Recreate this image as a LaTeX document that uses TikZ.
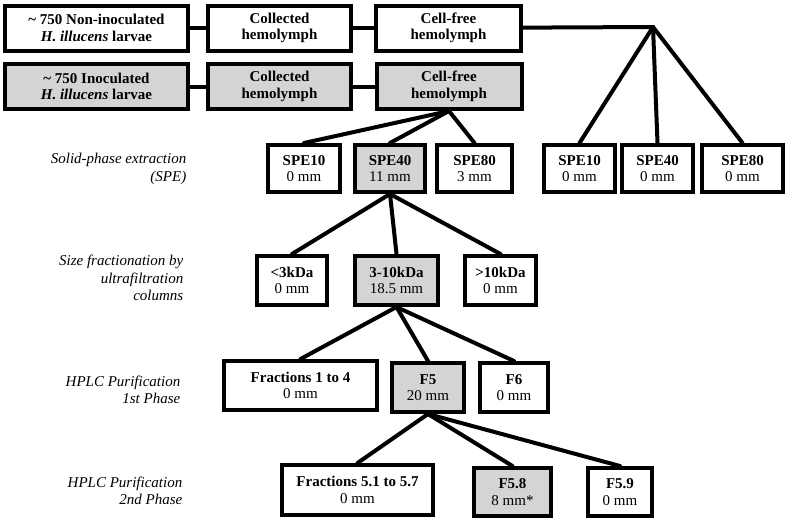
\documentclass[tikz,border=0pt]{standalone}
\usepackage{fontspec}
\setmainfont{Liberation Serif}
\usepackage{xcolor}
\usepackage{tikz}
\definecolor{boxgray}{RGB}{212,212,212}

\begin{document}
\begin{tikzpicture}
  [
    x=0.75pt, y=-0.75pt,
    Box/.style={rectangle, draw=black, fill=white, line width=3pt, align=center, inner sep=1pt, font=\fontsize{11.25pt}{12.4pt}\selectfont},
    Gray/.style={Box, fill=boxgray},
    Step/.style={anchor=east, align=right, font=\itshape\fontsize{11.25pt}{13.1pt}\selectfont},
    Link/.style={draw, line width=3pt, line cap=round}
  ]
  \useasboundingbox (0, 0) rectangle (788, 522);
  % Nodes
  \node[Box, minimum width=137.25pt, minimum height=33.75pt] (a1) at(96.5, 28) {\textbf{\textasciitilde{} 750 Non-inoculated}\\\textbf{\textit{H. illucens} larvae}};
  \node[Box, minimum width=107.25pt, minimum height=33.75pt] (b1) at(279.5, 28) {\textbf{Collected}\\\textbf{hemolymph}};
  \node[Box, minimum width=108.75pt, minimum height=33.75pt] (c1) at(448.5, 28) {\textbf{Cell-free}\\\textbf{hemolymph}};
  \node[Gray, minimum width=137.25pt, minimum height=33.75pt] (a2) at(96.5, 86.5) {\textbf{\textasciitilde{} 750 Inoculated}\\\textbf{\textit{H. illucens} larvae}};
  \node[Gray, minimum width=107.25pt, minimum height=33.75pt] (b2) at(279.5, 86.5) {\textbf{Collected}\\\textbf{hemolymph}};
  \node[Gray, minimum width=108.75pt, minimum height=33.75pt] (c2) at(449, 86.5) {\textbf{Cell-free}\\\textbf{hemolymph}};
  \coordinate (j) at(653, 27);
  % SPE
  \node[Box, minimum width=54pt, minimum height=35.25pt] (s10) at(304, 168.5) {\textbf{SPE10}\\0 mm};
  \node[Gray, minimum width=52.5pt, minimum height=35.25pt] (s40) at(390, 168.5) {\textbf{SPE40}\\11 mm};
  \node[Box, minimum width=56.25pt, minimum height=35.25pt] (s80) at(474.5, 168.5) {\textbf{SPE80}\\3 mm};
  \node[Box, minimum width=53.25pt, minimum height=35.25pt] (n10) at(579.5, 168.5) {\textbf{SPE10}\\0 mm};
  \node[Box, minimum width=53.25pt, minimum height=35.25pt] (n40) at(657.5, 168.5) {\textbf{SPE40}\\0 mm};
  \node[Box, minimum width=60.75pt, minimum height=35.25pt] (n80) at(742.5, 168.5) {\textbf{SPE80}\\0 mm};
  % Ultrafiltration
  \node[Box, minimum width=52.5pt, minimum height=36.75pt] (k3) at(292, 280.5) {\textbf{<3kDa}\\0 mm};
  \node[Gray, minimum width=62.25pt, minimum height=36.75pt] (k310) at(396.5, 280.5) {\textbf{3-10kDa}\\18.5 mm};
  \node[Box, minimum width=53.25pt, minimum height=36.75pt] (k10) at(500.5, 280.5) {\textbf{>10kDa}\\0 mm};
  % HPLC
  \node[Box, minimum width=114.75pt, minimum height=36.75pt] (f14) at(300.5, 385.5) {\textbf{Fractions 1 to 4}\\0 mm};
  \node[Gray, minimum width=54pt, minimum height=36.75pt] (f5) at(428, 387.5) {\textbf{F5}\\20 mm};
  \node[Box, minimum width=51pt, minimum height=36.75pt] (f6) at(514, 387.5) {\textbf{F6}\\0 mm};
  \node[Box, minimum width=113.25pt, minimum height=37.5pt] (f51) at(357.5, 490) {\textbf{Fractions 5.1 to 5.7}\\0 mm};
  \node[Gray, minimum width=57.75pt, minimum height=36pt] (f58) at(512.5, 492) {\textbf{F5.8}\\8 mm*};
  \node[Box, minimum width=48pt, minimum height=36pt] (f59) at(620, 492) {\textbf{F5.9}\\0 mm};
  % Steps
  \node[Step] (tspe) at(191, 169) {Solid-phase extraction\\(SPE)};
  \node[Step] (tsize) at(188, 278) {Size fractionation by\\ultrafiltration\\columns};
  \node[Step] (thplc1) at(185, 390) {HPLC Purification\\1st Phase};
  \node[Step] (thplc2) at(187, 491) {HPLC Purification\\2nd Phase};
  % Lines
  \path [Link] (a1) -- (b1);
  \path [Link] (b1) -- (c1);
  \path [Link] (a2) -- (b2);
  \path [Link] (b2) -- (c2);
  \path [Link] (c1) -- (j);
  \path [Link] (j) -- (n10.north);
  \path [Link] (j) -- (n40.north);
  \path [Link] (j) -- (n80.north);
  \path [Link] (c2.south) -- (s10.north);
  \path [Link] (c2.south) -- (s40.north);
  \path [Link] (c2.south) -- (s80.north);
  \path [Link] (s40.south) -- (k3.north);
  \path [Link] (s40.south) -- (k310.north);
  \path [Link] (s40.south) -- (k10.north);
  \path [Link] (k310.south) -- (f14.north);
  \path [Link] (k310.south) -- (f5.north);
  \path [Link] (k310.south) -- (f6.north);
  \path [Link] (f5.south) -- (f51.north);
  \path [Link] (f5.south) -- (f58.north);
  \path [Link] (f5.south) -- (f59.north);
\end{tikzpicture}
\end{document}
